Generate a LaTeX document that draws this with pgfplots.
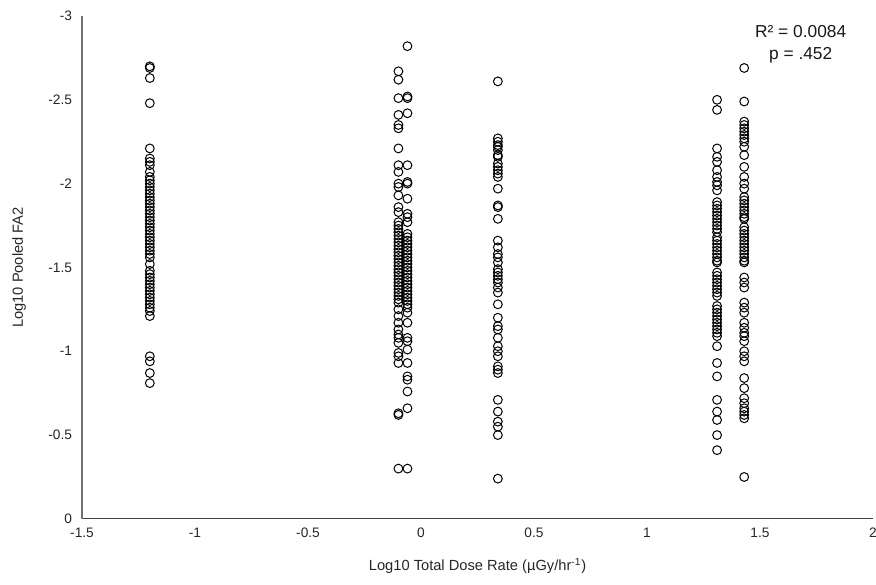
\documentclass[border=0pt]{standalone}
\usepackage{pgfplots}
\pgfplotsset{compat=1.18}
\usepackage{pgfplotstable}
\usepackage{fontspec}
\setmainfont{Liberation Sans}

\pgfplotstableread{
x y
-1.2 -2.70
-1.2 -2.69
-1.2 -2.63
-1.2 -2.48
-1.2 -2.21
-1.2 -2.15
-1.2 -2.13
-1.2 -2.11
-1.2 -2.07
-1.2 -2.04
-1.2 -2.02
-1.2 -2.00
-1.2 -1.98
-1.2 -1.96
-1.2 -1.94
-1.2 -1.92
-1.2 -1.90
-1.2 -1.88
-1.2 -1.86
-1.2 -1.84
-1.2 -1.82
-1.2 -1.80
-1.2 -1.78
-1.2 -1.76
-1.2 -1.74
-1.2 -1.72
-1.2 -1.70
-1.2 -1.68
-1.2 -1.66
-1.2 -1.64
-1.2 -1.62
-1.2 -1.60
-1.2 -1.58
-1.2 -1.56
-1.2 -1.52
-1.2 -1.48
-1.2 -1.46
-1.2 -1.44
-1.2 -1.42
-1.2 -1.40
-1.2 -1.38
-1.2 -1.36
-1.2 -1.34
-1.2 -1.32
-1.2 -1.30
-1.2 -1.28
-1.2 -1.26
-1.2 -1.24
-1.2 -1.21
-1.2 -0.97
-1.2 -0.94
-1.2 -0.87
-1.2 -0.81
}\colA

\pgfplotstableread{
x y
-0.1 -2.67
-0.1 -2.62
-0.1 -2.51
-0.1 -2.41
-0.1 -2.35
-0.1 -2.33
-0.1 -2.21
-0.1 -2.11
-0.1 -2.07
-0.1 -2.00
-0.1 -1.98
-0.1 -1.93
-0.1 -1.86
-0.1 -1.83
-0.1 -1.77
-0.1 -1.75
-0.1 -1.73
-0.1 -1.71
-0.1 -1.69
-0.1 -1.67
-0.1 -1.65
-0.1 -1.63
-0.1 -1.61
-0.1 -1.59
-0.1 -1.57
-0.1 -1.55
-0.1 -1.53
-0.1 -1.51
-0.1 -1.49
-0.1 -1.47
-0.1 -1.45
-0.1 -1.43
-0.1 -1.41
-0.1 -1.39
-0.1 -1.37
-0.1 -1.35
-0.1 -1.33
-0.1 -1.31
-0.1 -1.29
-0.1 -1.25
-0.1 -1.21
-0.1 -1.17
-0.1 -1.13
-0.1 -1.10
-0.1 -1.08
-0.1 -1.05
-0.1 -0.99
-0.1 -0.97
-0.1 -0.93
-0.1 -0.63
-0.1 -0.62
-0.1 -0.30
}\colB

\pgfplotstableread{
x y
-0.06 -2.82
-0.06 -2.52
-0.06 -2.51
-0.06 -2.42
-0.06 -2.11
-0.06 -2.01
-0.06 -2.00
-0.06 -1.91
-0.06 -1.82
-0.06 -1.80
-0.06 -1.77
-0.06 -1.70
-0.06 -1.68
-0.06 -1.66
-0.06 -1.64
-0.06 -1.62
-0.06 -1.60
-0.06 -1.58
-0.06 -1.56
-0.06 -1.54
-0.06 -1.52
-0.06 -1.50
-0.06 -1.48
-0.06 -1.46
-0.06 -1.44
-0.06 -1.42
-0.06 -1.40
-0.06 -1.38
-0.06 -1.36
-0.06 -1.34
-0.06 -1.32
-0.06 -1.30
-0.06 -1.28
-0.06 -1.26
-0.06 -1.23
-0.06 -1.17
-0.06 -1.08
-0.06 -1.06
-0.06 -1.01
-0.06 -0.93
-0.06 -0.85
-0.06 -0.83
-0.06 -0.76
-0.06 -0.66
-0.06 -0.30
}\colC

\pgfplotstableread{
x y
0.34 -2.61
0.34 -2.27
0.34 -2.25
0.34 -2.23
0.34 -2.22
0.34 -2.20
0.34 -2.17
0.34 -2.16
0.34 -2.12
0.34 -2.10
0.34 -2.08
0.34 -2.06
0.34 -2.04
0.34 -1.97
0.34 -1.87
0.34 -1.86
0.34 -1.79
0.34 -1.66
0.34 -1.62
0.34 -1.58
0.34 -1.56
0.34 -1.53
0.34 -1.49
0.34 -1.47
0.34 -1.45
0.34 -1.43
0.34 -1.41
0.34 -1.38
0.34 -1.35
0.34 -1.28
0.34 -1.20
0.34 -1.15
0.34 -1.13
0.34 -1.08
0.34 -1.03
0.34 -1.00
0.34 -0.97
0.34 -0.91
0.34 -0.89
0.34 -0.87
0.34 -0.71
0.34 -0.64
0.34 -0.58
0.34 -0.55
0.34 -0.50
0.34 -0.24
}\colD

\pgfplotstableread{
x y
1.31 -2.50
1.31 -2.44
1.31 -2.21
1.31 -2.16
1.31 -2.13
1.31 -2.08
1.31 -2.04
1.31 -2.01
1.31 -1.99
1.31 -1.96
1.31 -1.89
1.31 -1.87
1.31 -1.85
1.31 -1.83
1.31 -1.81
1.31 -1.79
1.31 -1.77
1.31 -1.75
1.31 -1.73
1.31 -1.71
1.31 -1.68
1.31 -1.66
1.31 -1.64
1.31 -1.62
1.31 -1.60
1.31 -1.58
1.31 -1.56
1.31 -1.54
1.31 -1.53
1.31 -1.47
1.31 -1.45
1.31 -1.43
1.31 -1.41
1.31 -1.39
1.31 -1.37
1.31 -1.35
1.31 -1.33
1.31 -1.27
1.31 -1.25
1.31 -1.23
1.31 -1.21
1.31 -1.19
1.31 -1.17
1.31 -1.15
1.31 -1.13
1.31 -1.11
1.31 -1.09
1.31 -1.03
1.31 -0.93
1.31 -0.85
1.31 -0.71
1.31 -0.64
1.31 -0.59
1.31 -0.50
1.31 -0.41
}\colE

\pgfplotstableread{
x y
1.43 -2.69
1.43 -2.49
1.43 -2.37
1.43 -2.35
1.43 -2.33
1.43 -2.31
1.43 -2.29
1.43 -2.27
1.43 -2.25
1.43 -2.22
1.43 -2.17
1.43 -2.10
1.43 -2.04
1.43 -2.00
1.43 -1.97
1.43 -1.92
1.43 -1.90
1.43 -1.88
1.43 -1.86
1.43 -1.84
1.43 -1.82
1.43 -1.80
1.43 -1.79
1.43 -1.74
1.43 -1.72
1.43 -1.70
1.43 -1.68
1.43 -1.66
1.43 -1.64
1.43 -1.62
1.43 -1.60
1.43 -1.58
1.43 -1.56
1.43 -1.54
1.43 -1.53
1.43 -1.44
1.43 -1.41
1.43 -1.38
1.43 -1.29
1.43 -1.26
1.43 -1.23
1.43 -1.17
1.43 -1.14
1.43 -1.11
1.43 -1.09
1.43 -1.06
1.43 -1.00
1.43 -0.97
1.43 -0.94
1.43 -0.84
1.43 -0.78
1.43 -0.72
1.43 -0.69
1.43 -0.66
1.43 -0.64
1.43 -0.62
1.43 -0.60
1.43 -0.25
}\colF

\begin{document}
\begin{tikzpicture}[pts/.style={only marks, mark=o, draw=black, mark size=3.3pt, mark options={line width=0.75pt, draw=black, fill=none}}]
\begin{axis}[
  width=593pt, height=377pt, scale only axis,
  xmin=-1.5, xmax=2, ymin=-3, ymax=0,
  y dir=reverse,
  axis x line*=bottom, axis y line*=left,
  x axis line style={draw=black!75, line width=0.9pt, -},
  y axis line style={draw=black!55, line width=0.9pt, -},
  xtick={-1.5,-1,-0.5,0,0.5,1,1.5,2},
  ytick={-3,-2.5,-2,-1.5,-1,-0.5,0},
  major tick length=0pt,
  tick label style={font=\fontsize{10.3}{12}\selectfont, text=black!85},
  /pgf/number format/assume math mode=true,
  xticklabel style={yshift=-3pt},
  yticklabel style={xshift=-4pt},
  xlabel={Log10 Total Dose Rate (µGy/hr\textsuperscript{-1})},
  ylabel={Log10 Pooled FA2},
  label style={font=\fontsize{11}{12}\selectfont, text=black!85},
  xlabel style={yshift=-9pt},
  ylabel style={yshift=10pt},
  clip=false,
]
\addplot[pts] table[x=x,y=y] {\colA};
\addplot[pts] table[x=x,y=y] {\colB};
\addplot[pts] table[x=x,y=y] {\colC};
\addplot[pts] table[x=x,y=y] {\colD};
\addplot[pts] table[x=x,y=y] {\colE};
\addplot[pts] table[x=x,y=y] {\colF};
\node[align=center, font=\fontsize{13}{16.5}\selectfont, text=black!90, anchor=north] at (axis cs:1.68,-2.97) {R² = 0.0084\\p = .452};
\end{axis}
\pgfresetboundingbox
\path ([shift={(-61.5pt,-49.5pt)}]current axis.south west) rectangle ([shift={(2.25pt,12pt)}]current axis.north east);
\end{tikzpicture}
\end{document}
